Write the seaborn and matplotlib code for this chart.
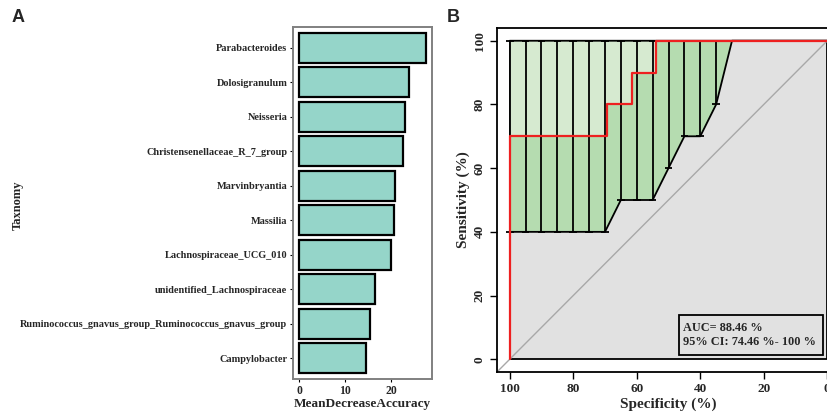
import matplotlib
matplotlib.use('Agg')
from matplotlib import pyplot as plt
from matplotlib.patches import Rectangle
import seaborn as sns
import pandas as pd

sns.set_style('white')
plt.rcParams['font.family'] = ['Liberation Serif', 'DejaVu Serif']
plt.rcParams['font.weight'] = 'bold'

# panel A: random forest importance
taxa = ['Parabacteroides', 'Dolosigranulum', 'Neisseria', 'Christensenellaceae_R_7_group',
        'Marvinbryantia', 'Massilia', 'Lachnospiraceae_UCG_010', 'unidentified_Lachnospiraceae',
        'Ruminococcus_gnavus_group_Ruminococcus_gnavus_group', 'Campylobacter']
mda = [27.4, 23.7, 22.9, 22.4, 20.8, 20.6, 20.0, 16.4, 15.3, 14.5]

# panel B: ROC curve (specificity / sensitivity in %)
roc_spec = [100, 100, 69.23, 69.23, 61.54, 61.54, 53.85, 53.85, 0]
roc_sens = [0, 70, 70, 80, 80, 90, 90, 100, 100]
ci_spec = [100, 95, 90, 85, 80, 75, 70, 65, 60, 55, 50, 45, 40, 35, 30, 25, 20, 15, 10, 5, 0]
ci_low = [40, 40, 40, 40, 40, 40, 40, 50, 50, 50, 60, 70, 70, 80, 100, 100, 100, 100, 100, 100, 100]
ci_high = [100] * 21
auc_text = 'AUC= 88.46 %\n95% CI: 74.46 %- 100 %'

fig = plt.figure(figsize=(8.28, 4.16), dpi=100)

# ---- A ----
axA = fig.add_axes([293 / 828, 1 - 379 / 416, 139 / 828, 352 / 416])
df = pd.DataFrame({'Taxnomy': taxa, 'MeanDecreaseAccuracy': mda})
sns.barplot(data=df, x='MeanDecreaseAccuracy', y='Taxnomy', order=taxa, color='#95d5c9',
            saturation=1, width=0.88, edgecolor='black', linewidth=1.6, ax=axA)
axA.set_xlim(-1.37, 28.8)
axA.set_ylim(9.6, -0.6)
axA.set_xticks([0, 10, 20])
for s in axA.spines.values():
    s.set_visible(True)
    s.set_color('#808080')
    s.set_linewidth(1.4)
axA.tick_params(axis='both', length=2.5, width=0.8, color='black', labelsize=7.4, pad=1.5, left=True, bottom=True)
axA.tick_params(axis='x', labelsize=8.4)
axA.set_xlabel('MeanDecreaseAccuracy', fontsize=9.5, fontweight='bold', labelpad=1)
axA.set_ylabel('')
fig.text(18 / 828, 1 - 205 / 416, 'Taxnomy', rotation=90, fontsize=9, fontweight='bold',
         ha='center', va='center')

# ---- B ----
axB = fig.add_axes([497 / 828, 1 - 372 / 416, 343 / 828, 344 / 416])
axB.set_xlim(104, -4)
axB.set_ylim(-4, 104)
axB.add_patch(Rectangle((0, 0), 100, 100, facecolor='#e1e1e1', edgecolor='black', lw=1.3, zorder=1))
axB.axline((100, 0), (0, 100), color='#a8a8a8', lw=1, zorder=2)
# CI shape: darker band from lower CI to upper CI, lighter band above ROC curve
axB.fill_between(ci_spec, ci_low, ci_high, facecolor='#b5dcb0', edgecolor='none', zorder=3)
axB.fill_between(roc_spec[1:], roc_sens[1:], 100, facecolor='#d6ead0', edgecolor='none', zorder=3.5)
axB.plot(ci_spec + ci_spec[::-1], ci_low + ci_high[::-1], color='black', lw=1.3, zorder=4)
# CI bars
axB.vlines(ci_spec, ci_low, ci_high, color='black', lw=1.3, zorder=4)
cap = 1.2
for sp, lo, hi in zip(ci_spec, ci_low, ci_high):
    axB.hlines([lo, hi], sp - cap, sp + cap, color='black', lw=1.3, zorder=4)
roc_df = pd.DataFrame({'spec': roc_spec, 'sens': roc_sens})
sns.lineplot(data=roc_df, x='spec', y='sens', sort=False, estimator=None, color='#ee2020',
             lw=1.6, ax=axB, zorder=5)
axB.add_patch(Rectangle((1.3, 1.3), 45.4, 12.6, facecolor='none', edgecolor='black', lw=1.3, zorder=6))
axB.text(45.4, 7.6, auc_text, fontsize=8.8, fontweight='bold', ha='left', va='center',
         linespacing=1.15, zorder=7)
for s in axB.spines.values():
    s.set_visible(True)
    s.set_color('black')
    s.set_linewidth(1.3)
axB.set_xticks([100, 80, 60, 40, 20, 0])
axB.set_yticks([0, 20, 40, 60, 80, 100])
axB.tick_params(axis='both', length=5, width=1, color='black', labelsize=9.5, left=True, bottom=True, pad=3)
for t in axB.get_yticklabels():
    t.set_rotation(90)
    t.set_va('center')
axB.set_xlabel('Specificity (%)', fontsize=11, fontweight='bold', labelpad=2)
axB.set_ylabel('Sensitivity (%)', fontsize=11, fontweight='bold', labelpad=3)

fig.text(12 / 828, 1 - 18 / 416, 'A', fontsize=13, fontweight='bold', family='Liberation Sans',
         ha='left', va='center')
fig.text(447 / 828, 1 - 18 / 416, 'B', fontsize=13, fontweight='bold', family='Liberation Sans',
         ha='left', va='center')

fig.savefig('out.png', dpi=100)
